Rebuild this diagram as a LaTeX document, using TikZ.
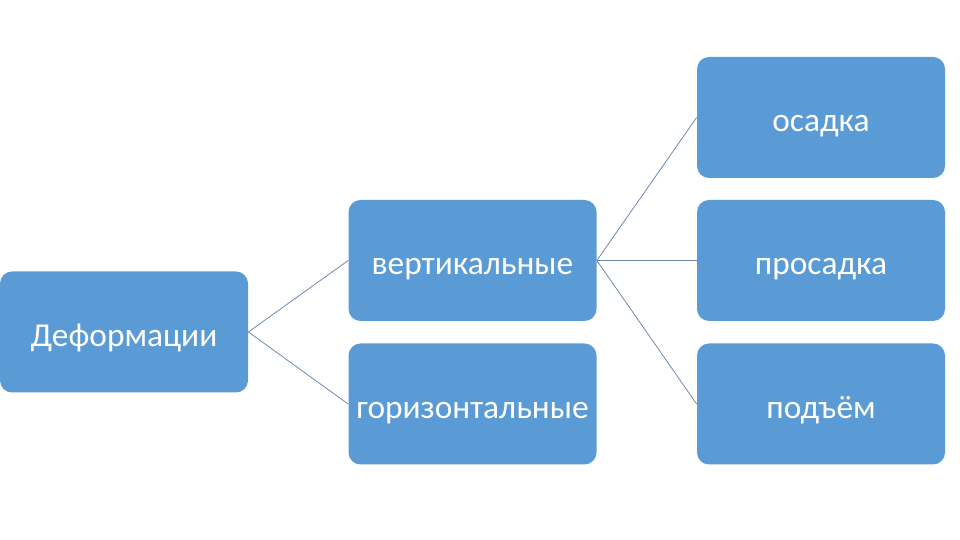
\documentclass[tikz,border=0pt]{standalone}
\usepackage{fontspec}
\setmainfont{Carlito}
\usetikzlibrary{positioning}
\definecolor{boxblue}{HTML}{5B9BD5}
\definecolor{linkgray}{HTML}{6A8AB0}

\begin{document}
\begin{tikzpicture}[
    block/.style={draw=none, fill=boxblue, rounded corners=0.24cm,
      minimum width=4.96cm, minimum height=2.42cm, inner sep=0pt,
      text=white, font=\fontsize{19}{23}\selectfont,
      text height=16pt, text depth=0pt},
    link/.style={draw=linkgray, line width=0.45pt}
  ]
  \useasboundingbox (0,0) rectangle (19.2,10.8);
  % first level
  \node[block] (deform) at (2.48,4.16) {Деформации};
  % second level
  \node[block] (vert)  at (9.45,5.59) {вертикальные};
  \node[block] (horiz) at (9.45,2.72) {горизонтальные};
  % third level
  \node[block] (osadka)   at (16.42,8.45) {осадка};
  \node[block] (prosadka) at (16.42,5.59) {просадка};
  \node[block] (podyom)   at (16.42,2.72) {подъём};
  % links
  \draw[link] (deform.east) -- (vert.west);
  \draw[link] (deform.east) -- (horiz.west);
  \foreach \t in {osadka,prosadka,podyom}
    \draw[link] (vert.east) -- (\t.west);
\end{tikzpicture}
\end{document}
